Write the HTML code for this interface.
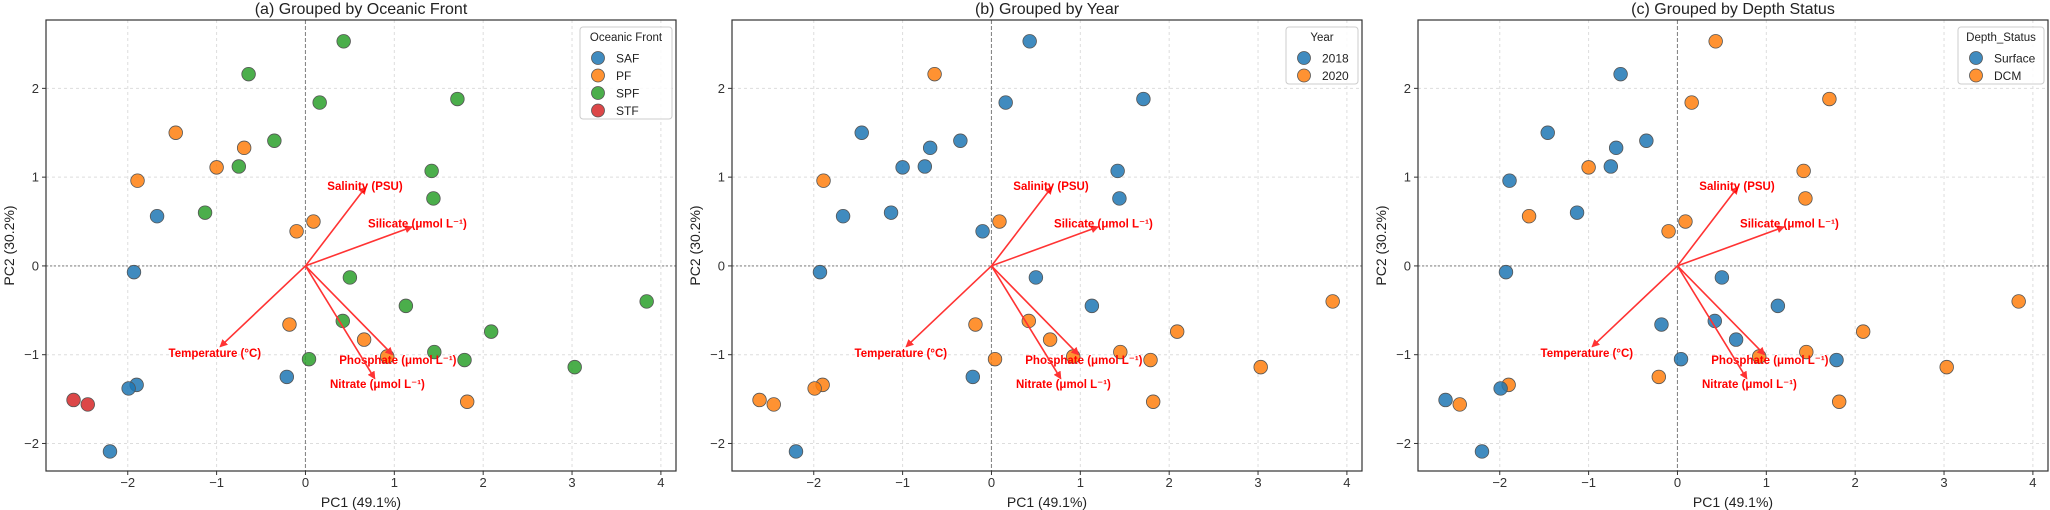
<!DOCTYPE html>
<html><head><meta charset="utf-8">
<style>
html,body{margin:0;padding:0;background:#fff;}
svg{display:block;font-family:"Liberation Sans","DejaVu Sans",sans-serif;}
</style></head>
<body>
<svg id="fig" width="2050" height="510" viewBox="0 0 2050 510" xmlns="http://www.w3.org/2000/svg"></svg>
<script>
// ---- data ----
const pc1 = [0.43,-0.64,0.16,1.71,-1.46,-0.69,-0.35,-0.75,-1.0,-1.89,1.42,1.44,-1.67,-1.13,0.09,-0.10,-1.93,0.50,1.13,3.84,0.42,-0.18,2.09,0.66,1.45,0.92,0.04,1.79,3.03,-0.21,-1.90,-1.99,-2.61,-2.45,1.82,-2.20];
const pc2 = [2.53,2.16,1.84,1.88,1.50,1.33,1.41,1.12,1.11,0.96,1.07,0.76,0.56,0.60,0.50,0.39,-0.07,-0.13,-0.45,-0.40,-0.62,-0.66,-0.74,-0.83,-0.97,-1.02,-1.05,-1.06,-1.14,-1.25,-1.34,-1.38,-1.51,-1.56,-1.53,-2.09];
const frontGroup = ["SPF","SPF","SPF","SPF","PF","PF","SPF","SPF","PF","PF","SPF","SPF","SAF","SPF","PF","PF","SAF","SPF","SPF","SPF","SPF","PF","SPF","PF","SPF","PF","SPF","SPF","SPF","SAF","SAF","SAF","STF","STF","PF","SAF"];
const yearGroup = ["2018","2020","2018","2018","2018","2018","2018","2018","2018","2020","2018","2018","2018","2018","2020","2018","2018","2018","2018","2020","2020","2020","2020","2020","2020","2020","2020","2020","2020","2018","2020","2020","2020","2020","2020","2018"];
const depthGroup = ["DCM","Surface","DCM","DCM","Surface","Surface","Surface","Surface","DCM","Surface","DCM","DCM","DCM","Surface","DCM","DCM","Surface","Surface","Surface","DCM","Surface","Surface","DCM","Surface","DCM","DCM","Surface","Surface","DCM","DCM","DCM","Surface","Surface","DCM","DCM","Surface"];
const loadNames = ["Salinity (PSU)","Silicate (μmol L⁻¹)","Temperature (°C)","Phosphate (μmol L⁻¹)","Nitrate (μmol L⁻¹)"];
const loadX = [0.68,1.20,-0.96,0.98,0.78];
const loadY = [0.89,0.44,-0.91,-1.00,-1.27];
const labelX = [0.67,1.26,-1.02,1.04,0.81];
const labelY = [0.90,0.48,-0.98,-1.06,-1.33];
const xTicks = [-2,-1,0,1,2,3,4];
const yTicks = [-2,-1,0,1,2];
const xDomain = [-2.92,4.17];
const yDomain = [-2.31,2.77];

const panels = [
 {title:"(a) Grouped by Oceanic Front", legendTitle:"Oceanic Front", groups:frontGroup, cats:["SAF","PF","SPF","STF"], colors:["#1f77b4","#ff7f0e","#2ca02c","#d62728"], left:46, lname:"front"},
 {title:"(b) Grouped by Year", legendTitle:"Year", groups:yearGroup, cats:["2018","2020"], colors:["#1f77b4","#ff7f0e"], left:732, lname:"year"},
 {title:"(c) Grouped by Depth Status", legendTitle:"Depth_Status", groups:depthGroup, cats:["Surface","DCM"], colors:["#1f77b4","#ff7f0e"], left:1418, lname:"depth"}
];
const W = 630, TOP = 20, BOT = 471;
const NS = "http://www.w3.org/2000/svg";
const svg = document.getElementById('fig');
function el(tag, attrs, parent){const e=document.createElementNS(NS,tag);for(const k in attrs)e.setAttribute(k,attrs[k]);(parent||svg).appendChild(e);return e;}

const defs = el('defs',{});
const mk = el('marker',{id:'arr',markerWidth:'8',markerHeight:'8',refX:'7',refY:'4',orient:'auto',markerUnits:'userSpaceOnUse'},defs);
el('path',{d:'M0,0 L8,4 L0,8 Z',fill:'#ff3333'},mk);

panels.forEach((p,pi)=>{
  const g = el('g',{});
  
  
  const L=p.left, R=L+W;
  const sx = v => L + (v - xDomain[0])/(xDomain[1]-xDomain[0])*W;
  const sy = v => BOT - (v - yDomain[0])/(yDomain[1]-yDomain[0])*(BOT-TOP);
  // grid
  xTicks.forEach(t=>{
    const ln=el('line',{x1:sx(t),x2:sx(t),y1:TOP,y2:BOT,stroke:'#dddddd','stroke-width':1,'stroke-dasharray':'3,3'},g);
    
    
    const tl=el('text',{x:sx(t),y:487,'text-anchor':'middle','font-size':13,fill:'#333'},g);
    tl.textContent = t<0 ? '\u2212'+(-t) : String(t);
    
    
    el('line',{x1:sx(t),x2:sx(t),y1:BOT,y2:BOT+4,stroke:'#333'},g);
  });
  yTicks.forEach(t=>{
    const ln=el('line',{x1:L,x2:R,y1:sy(t),y2:sy(t),stroke:'#dddddd','stroke-width':1,'stroke-dasharray':'3,3'},g);
    
    
    const tl=el('text',{x:L-7,y:sy(t)+4.5,'text-anchor':'end','font-size':13,fill:'#333'},g);
    tl.textContent = t<0 ? '\u2212'+(-t) : String(t);
    
    
    el('line',{x1:L-4,x2:L,y1:sy(t),y2:sy(t),stroke:'#333'},g);
  });
  // zero lines
  const zx=el('line',{x1:sx(0),x2:sx(0),y1:TOP,y2:BOT,stroke:'#888','stroke-width':1.1,'stroke-dasharray':'4,2'},g);
  
  
  const zy=el('line',{x1:L,x2:R,y1:sy(0),y2:sy(0),stroke:'#888','stroke-width':1.1,'stroke-dasharray':'2,2'},g);
  
  
  // points
  pc1.forEach((x,i)=>{
    const ci = p.cats.indexOf(p.groups[i]);
    const c=el('circle',{cx:sx(x),cy:sy(pc2[i]),r:6.8,fill:p.colors[ci],'fill-opacity':0.85,stroke:'#555','stroke-width':0.8},g);
    
    
  });
  // loadings
  loadX.forEach((lx,i)=>{
    const a=el('line',{x1:sx(0),y1:sy(0),x2:sx(lx),y2:sy(loadY[i]),stroke:'#ff3333','stroke-width':1.6,'marker-end':'url(#arr)'},g);
    
    
    const t=el('text',{x:sx(labelX[i]),y:sy(labelY[i])+4,'text-anchor':'middle','font-size':11.5,'font-weight':'bold',fill:'#ff0000'},g);
    t.textContent=loadNames[i];
    
    
  });
  // frame
  const fr=el('rect',{x:L,y:TOP,width:W,height:BOT-TOP,fill:'none',stroke:'#333','stroke-width':1.2},g);
  
  
  // title
  const ti=el('text',{x:L+W/2,y:14,'text-anchor':'middle','font-size':16,fill:'#222'},g);
  ti.textContent=p.title;
  
  
  const xl=el('text',{x:L+W/2,y:507,'text-anchor':'middle','font-size':14,fill:'#222'},g);
  xl.textContent='PC1 (49.1%)';
  
  
  const yx=L-32, yy=(TOP+BOT)/2;
  const yl=el('text',{x:yx,y:yy,'text-anchor':'middle','font-size':14,fill:'#222',transform:'rotate(-90 '+yx+' '+yy+')'},g);
  yl.textContent='PC2 (30.2%)';
  
  
  // legend
  const lw = pi===0 ? 92 : (pi===1 ? 72 : 86);
  const lh = 22 + p.cats.length*17.5;
  const lx0 = R - lw - 4, ly0 = 27;
  const lg=el('g',{},g);
  
  
  el('rect',{x:lx0,y:ly0,width:lw,height:lh,rx:3,fill:'#fff','fill-opacity':0.85,stroke:'#ccc'},lg);
  const lt=el('text',{x:lx0+lw/2,y:ly0+14,'text-anchor':'middle','font-size':11.5,fill:'#222'},lg);
  lt.textContent=p.legendTitle;
  
  
  p.cats.forEach((c,ci)=>{
    const yy2 = ly0+31+ci*17.5;
    const e=el('g',{},lg);
    
    
    el('circle',{cx:lx0+18,cy:yy2,r:6.5,fill:p.colors[ci],'fill-opacity':0.85,stroke:'#555','stroke-width':0.8},e);
    const tx=el('text',{x:lx0+36,y:yy2+4.5,'font-size':12,fill:'#222'},e);
    tx.textContent=c;
  });
});
</script>
</body></html>
